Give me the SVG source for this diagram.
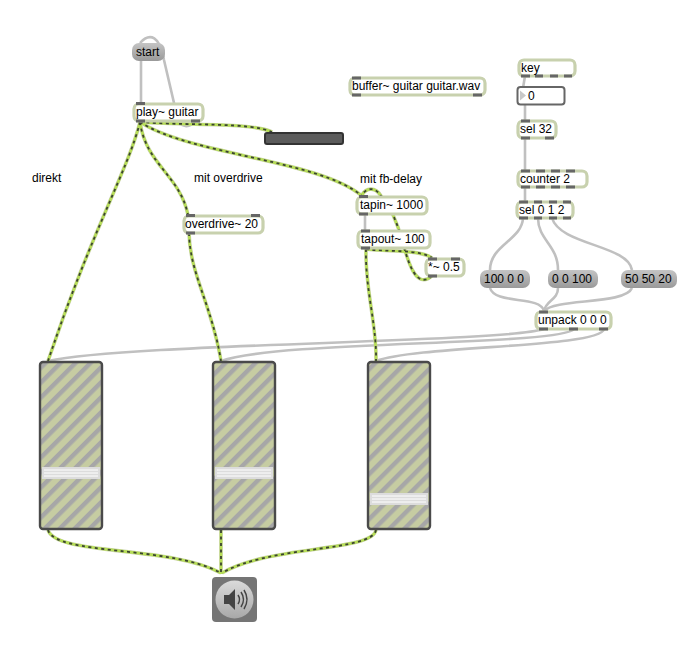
<svg xmlns="http://www.w3.org/2000/svg" width="686" height="650" viewBox="0 0 686 650">
<style>
text{font-family:"Liberation Sans",Arial,sans-serif;font-size:12px;fill:#000}
.obj{fill:#fff;stroke:#c8d1ae;stroke-width:3.2}
.msg{fill:url(#msgGrad);stroke:none}
.port{fill:#666}
.c{fill:none;stroke:#c0c0c0;stroke-width:2.6}
.o{fill:none;stroke:#c9d2ab;stroke-width:3.6}
.s{fill:none;stroke:#b7de57;stroke-width:2.6}
.d{fill:none;stroke:#3a4232;stroke-width:1.8;stroke-dasharray:3 3.5}
.slider{fill:url(#stripes);stroke:#4a4a4a;stroke-width:2.4}
.handle{fill:#dcdcdc}
.hl{stroke:#fff;stroke-width:1}
</style>
<defs>
<linearGradient id="msgGrad" x1="0" y1="0" x2="0" y2="1"><stop offset="0" stop-color="#c4c4c4"/><stop offset="1" stop-color="#999"/></linearGradient>
<linearGradient id="dacGrad" x1="0" y1="0" x2="0" y2="1"><stop offset="0" stop-color="#dadada"/><stop offset="1" stop-color="#a8a8a8"/></linearGradient>
<pattern id="stripes" width="10.6" height="10.6" patternUnits="userSpaceOnUse" patternTransform="rotate(45 40 362)"><rect width="10.6" height="10.6" fill="#c6cca2"/><rect width="4.4" height="10.6" fill="#a7a7a7"/></pattern>
<path id="p1" d="M140 122C128 170 92 230 48 361"/>
<path id="p2" d="M140 122C146 165 180 175 188 215"/>
<path id="p3" d="M140 122C190 155 320 160 362 196"/>
<path id="p4" d="M140 122C190 126 250 122 272 132"/>
<path id="p5" d="M189 233C190 275 212 305 221 361"/>
<path id="p7" d="M432 276C416 290 408 262 402 240C398 225 390 205 381 196C375 186 366 188 362 195"/>
<path id="p8" d="M366 249C365 290 377 325 376 361"/>
<path id="p9" d="M366 249C385 252 420 249 432 258"/>
<path id="p11" d="M48 530C56 556 170 545 221 573"/>
<path id="p12" d="M221 530V574"/>
<path id="p13" d="M376 530C372 552 270 545 222 573"/>
</defs>

<g id="connectors">
<path class="c" d="M141 60V103"/>
<path class="c" d="M195 121C190 128 182 128 178 120L164 60C160 36 150 32 140 43"/>
<path class="c" d="M525 76L523 88"/>
<path class="c" d="M525 105V120"/>
<path class="c" d="M525 138V170"/>
<path class="c" d="M525 187V201"/>
<path class="c" d="M365 214V230"/>
<path class="c" d="M523 218C522 240 490 245 490 270"/>
<path class="c" d="M538 218C538 240 558 245 558 270"/>
<path class="c" d="M552 218C560 245 628 245 632 270"/>
<path class="c" d="M490 288C495 305 540 295 544 311"/>
<path class="c" d="M558 288C558 300 546 300 544 311"/>
<path class="c" d="M632 288C625 305 555 298 544 311"/>
<path class="c" d="M544 329C500 343 130 343 48 361"/>
<path class="c" d="M574 329C560 346 280 340 221 361"/>
<path class="c" d="M604 329C600 348 420 345 376 361"/>
<g>
<use href="#p1" class="o"/><use href="#p2" class="o"/><use href="#p3" class="o"/><use href="#p4" class="o"/><use href="#p5" class="o"/><use href="#p7" class="o"/><use href="#p8" class="o"/><use href="#p9" class="o"/><use href="#p11" class="o"/><use href="#p12" class="o"/><use href="#p13" class="o"/>
<use href="#p1" class="s"/><use href="#p2" class="s"/><use href="#p3" class="s"/><use href="#p4" class="s"/><use href="#p5" class="s"/><use href="#p7" class="s"/><use href="#p8" class="s"/><use href="#p9" class="s"/><use href="#p11" class="s"/><use href="#p12" class="s"/><use href="#p13" class="s"/>
<use href="#p1" class="d"/><use href="#p2" class="d"/><use href="#p3" class="d"/><use href="#p4" class="d"/><use href="#p5" class="d"/><use href="#p7" class="d"/><use href="#p8" class="d"/><use href="#p9" class="d"/><use href="#p11" class="d"/><use href="#p12" class="d"/><use href="#p13" class="d"/>
</g>
</g>

<g id="start"><rect class="msg" x="132" y="43" width="33" height="18" rx="7"/><text x="136" y="56">start</text></g>
<g id="play"><rect class="obj" x="134" y="104" width="69" height="17" rx="5"/><rect class="port" x="136" y="102" width="9" height="3"/><rect class="port" x="136" y="119.500" width="9" height="3"/><rect class="port" x="191" y="119.500" width="9" height="3"/><text x="136" y="116">play~ guitar</text></g>
<g id="bar"><rect x="265" y="133" width="78" height="11" rx="2" fill="#5c5c5c" stroke="#333" stroke-width="2"/></g>
<g id="buffer"><rect class="obj" x="350" y="78" width="135" height="17" rx="5"/><rect class="port" x="352" y="76.500" width="9" height="3"/><rect class="port" x="352" y="93.500" width="9" height="3"/><rect class="port" x="473" y="93.500" width="9" height="3"/><text x="352" y="90">buffer~ guitar guitar.wav</text></g>
<g id="key"><rect class="obj" x="519" y="60" width="56" height="16" rx="5"/><rect class="port" x="521" y="74.500" width="9" height="3"/><rect class="port" x="535" y="74.500" width="8" height="3"/><rect class="port" x="550" y="74.500" width="8" height="3"/><rect class="port" x="564" y="74.500" width="8" height="3"/><text x="521" y="72">key</text></g>
<g id="number"><rect x="517.500" y="87" width="47" height="17.500" rx="3" fill="#fff" stroke="#666" stroke-width="2"/><path d="M520 90.500V100.500L526 95.500Z" fill="#c8c8c8"/><text x="528" y="100">0</text></g>
<g id="sel32"><rect class="obj" x="518" y="121" width="38" height="17" rx="5"/><rect class="port" x="521" y="119.500" width="9" height="3"/><rect class="port" x="521" y="136.500" width="9" height="3"/><rect class="port" x="545" y="136.500" width="9" height="3"/><text x="520" y="133">sel 32</text></g>
<g id="counter"><rect class="obj" x="518" y="171" width="69" height="16" rx="5"/><rect class="port" x="521" y="169.500" width="9" height="3"/><rect class="port" x="536" y="169.500" width="9" height="3"/><rect class="port" x="551" y="169.500" width="9" height="3"/><rect class="port" x="566" y="169.500" width="9" height="3"/><rect class="port" x="521" y="185.500" width="9" height="3"/><rect class="port" x="536" y="185.500" width="9" height="3"/><rect class="port" x="551" y="185.500" width="9" height="3"/><rect class="port" x="566" y="185.500" width="9" height="3"/><text x="520" y="183">counter 2</text></g>
<g id="sel012"><rect class="obj" x="517" y="202" width="56" height="16" rx="5"/><rect class="port" x="519" y="200.500" width="9" height="3"/><rect class="port" x="534" y="200.500" width="8" height="3"/><rect class="port" x="549" y="200.500" width="8" height="3"/><rect class="port" x="563" y="200.500" width="8" height="3"/><rect class="port" x="519" y="216.500" width="9" height="3"/><rect class="port" x="534" y="216.500" width="8" height="3"/><rect class="port" x="549" y="216.500" width="8" height="3"/><rect class="port" x="563" y="216.500" width="8" height="3"/><text x="519" y="214">sel 0 1 2</text></g>
<g id="tapin"><rect class="obj" x="357" y="197" width="70" height="17" rx="5"/><rect class="port" x="359" y="195" width="9" height="3"/><rect class="port" x="359" y="212.500" width="9" height="3"/><text x="360" y="209">tapin~ 1000</text></g>
<g id="tapout"><rect class="obj" x="358" y="231" width="72" height="17" rx="5"/><rect class="port" x="361" y="229.500" width="9" height="3"/><rect class="port" x="361" y="246.500" width="9" height="3"/><text x="361" y="243">tapout~ 100</text></g>
<g id="mul"><rect class="obj" x="426" y="259" width="38" height="17" rx="5"/><rect class="port" x="428" y="257.500" width="9" height="3"/><rect class="port" x="451" y="257.500" width="9" height="3"/><rect class="port" x="428" y="274.500" width="9" height="3"/><text x="428" y="271">*~ 0.5</text></g>
<g id="overdrive"><rect class="obj" x="184" y="216" width="79" height="17" rx="5"/><rect class="port" x="186" y="214" width="9" height="3"/><rect class="port" x="251" y="214" width="9" height="3"/><rect class="port" x="186" y="231.500" width="9" height="3"/><text x="185" y="228">overdrive~ 20</text></g>
<g id="m1"><rect class="msg" x="480" y="270" width="50" height="18" rx="7"/><text x="484" y="283">100 0 0</text></g>
<g id="m2"><rect class="msg" x="548" y="270" width="50" height="18" rx="7"/><text x="552" y="283">0 0 100</text></g>
<g id="m3"><rect class="msg" x="621" y="270" width="56" height="18" rx="7"/><text x="625" y="283">50 50 20</text></g>
<g id="unpack"><rect class="obj" x="536" y="312" width="75" height="17" rx="5"/><rect class="port" x="539" y="310.500" width="9" height="3"/><rect class="port" x="539" y="327.500" width="9" height="3"/><rect class="port" x="569" y="327.500" width="9" height="3"/><rect class="port" x="599" y="327.500" width="9" height="3"/><text x="538" y="324">unpack 0 0 0</text></g>
<g id="l1"><text x="32" y="182">direkt</text></g>
<g id="l2"><text x="194" y="182">mit overdrive</text></g>
<g id="l3"><text x="360" y="183">mit fb-delay</text></g>
<g id="slider1"><rect class="slider" x="40" y="362" width="62" height="167" rx="3"/><rect class="handle" x="42" y="467" width="58" height="12"/><path class="hl" d="M44 470H98M44 473H98M44 476H98"/></g>
<g id="slider2"><rect class="slider" x="213" y="362" width="62" height="167" rx="3"/><rect class="handle" x="215" y="467" width="58" height="12"/><path class="hl" d="M217 470H271M217 473H271M217 476H271"/></g>
<g id="slider3"><rect class="slider" x="368" y="362" width="62" height="167" rx="3"/><rect class="handle" x="370" y="493" width="58" height="12"/><path class="hl" d="M372 496H426M372 499H426M372 502H426"/></g>
<g id="dac"><rect x="212" y="577" width="45" height="45" rx="4" fill="#757575"/><circle cx="234.500" cy="599.500" r="19" fill="url(#dacGrad)"/><path d="M224 595V604H229L235 610V589L229 595Z" fill="#444"/><path d="M238 595Q241 599.500 238 604M241 592Q246 599.500 241 607M244 590Q250 599.500 244 609" fill="none" stroke="#444" stroke-width="1.500"/></g>
</svg>
